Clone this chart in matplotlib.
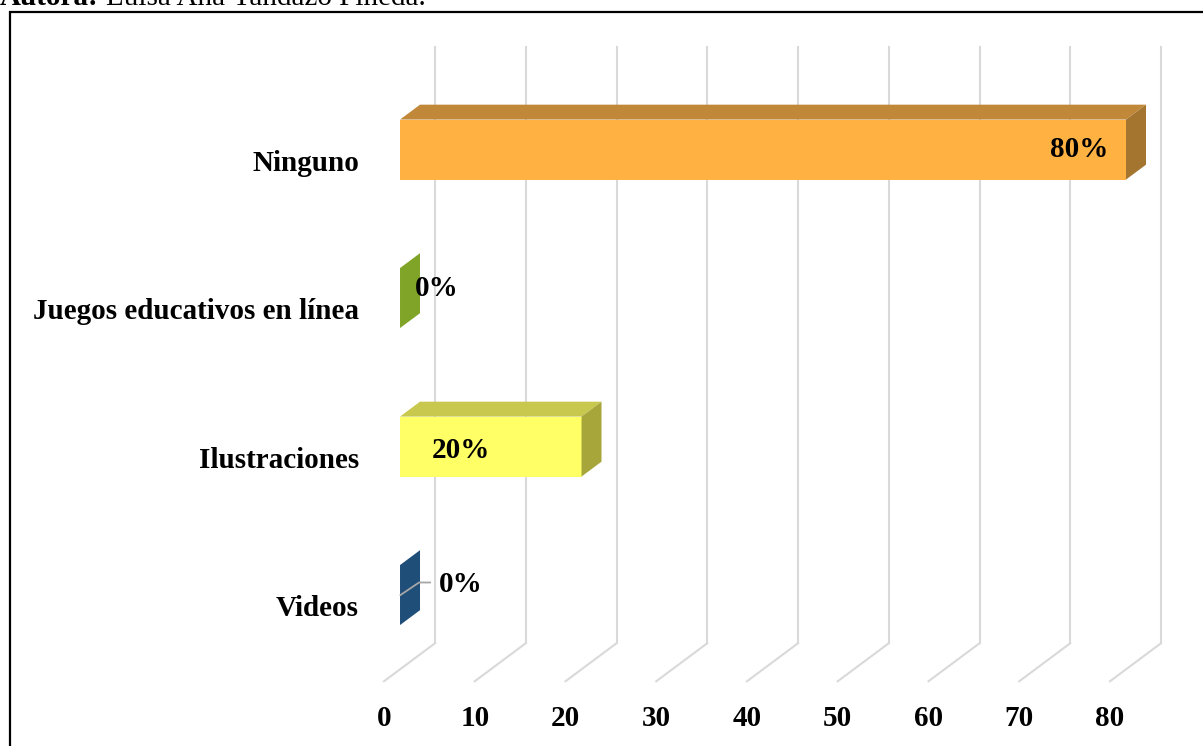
import matplotlib
matplotlib.use("Agg")
import matplotlib.pyplot as plt
from matplotlib.patches import Polygon, Rectangle
from matplotlib.lines import Line2D

# ---- data ----
categories = ["Videos", "Ilustraciones", "Juegos educativos en línea", "Ninguno"]
values = [0, 20, 0, 80]
value_labels = ["0%", "20%", "0%", "80%"]
x_ticks = [0, 10, 20, 30, 40, 50, 60, 70, 80]
author_bold = "Autora:"
author_rest = "Luisa Ana Yandazo Pineda."

# ---- style ----
front_colors = ["#1F4E79", "#FFFF66", "#7FA428", "#FFB142"]
top_colors = ["#1A4268", "#C8C84F", "#6C8C22", "#C1883A"]
side_colors = ["#1F4E79", "#A6A63A", "#7FA428", "#A3752E"]

plt.rcParams['font.family'] = ['Liberation Serif', 'DejaVu Serif']
FS = 21

W, H = 1203, 746
fig = plt.figure(figsize=(W / 100, H / 100), dpi=100)
ax = fig.add_axes([0, 0, 1, 1])
ax.set_axis_off()

# axis scaling (pixel layout of the original chart)
px_per_x = 9.075
x0_px = 384
px_per_y = 148.5
y0_px = 607
ax.set_xlim(-x0_px / px_per_x, (W - x0_px) / px_per_x)
ax.set_ylim((y0_px - H) / px_per_y, y0_px / px_per_y)

DX = 51 / px_per_x        # full depth offset in x units
DY = 38 / px_per_y        # full depth offset in category units
F0, F1 = 0.314, 0.706     # bar depth placement (fractions)
HH = 30 / px_per_y        # bar half height
y_floor = -0.5
y_top_back = (y0_px - 47) / px_per_y

grid_c = "#D9D9D9"
for t in x_ticks:
    ax.add_line(Line2D([t, t + DX], [y_floor, y_floor + DY], color=grid_c, lw=1.5, zorder=1))
    ax.add_line(Line2D([t + DX, t + DX], [y_floor + DY, y_top_back], color=grid_c, lw=1.5, zorder=1))
    ax.text(t, (y0_px - 718) / px_per_y, str(t), ha='center', va='center',
            fontsize=FS, fontweight='bold', zorder=5)

for i, (v, fc, tc, sc) in enumerate(zip(values, front_colors, top_colors, side_colors)):
    xf0, xf1 = F0 * DX, F1 * DX
    yf0, yf1 = F0 * DY, F1 * DY
    yb = i - HH + yf0
    yt = i + HH + yf0
    if v > 0:
        ax.add_patch(Polygon([(xf0, yb), (xf0 + v, yb), (xf0 + v, yt), (xf0, yt)],
                             closed=True, facecolor=fc, edgecolor='none', zorder=3))
        ax.add_patch(Polygon([(xf0, yt), (xf0 + v, yt), (xf1 + v, i + HH + yf1), (xf1, i + HH + yf1)],
                             closed=True, facecolor=tc, edgecolor='none', zorder=3))
    ax.add_patch(Polygon([(xf0 + v, yb), (xf1 + v, i - HH + yf1), (xf1 + v, i + HH + yf1), (xf0 + v, yt)],
                         closed=True, facecolor=sc, edgecolor='none', zorder=3))
    ax.text((359 - x0_px) / px_per_x, i - 2 / px_per_y, categories[i], ha='right', va='center',
            fontsize=FS, fontweight='bold', zorder=5)

# value labels
yc3 = 3 + F0 * DY
ax.text(values[3] + F0 * DX - 1.9, yc3, value_labels[3], ha='right', va='center',
        fontsize=FS, fontweight='bold', zorder=6)
ax.text(values[1] + (461 - 565.5) / px_per_x, (y0_px - 451) / px_per_y, value_labels[1],
        ha='center', va='center', fontsize=FS, fontweight='bold', zorder=6)
ax.text(values[2] + (437 - x0_px) / px_per_x, (y0_px - 289) / px_per_y, value_labels[2],
        ha='center', va='center', fontsize=FS, fontweight='bold', zorder=6)
lx = [values[0] + (400.5 - x0_px) / px_per_x, values[0] + (419 - x0_px) / px_per_x,
      values[0] + (430 - x0_px) / px_per_x]
ly = [(y0_px - 595) / px_per_y, (y0_px - 582.5) / px_per_y, (y0_px - 582.5) / px_per_y]
ax.add_line(Line2D(lx, ly, color="#A6A6A6", lw=1.3, zorder=6))
ax.text(values[0] + (461 - x0_px) / px_per_x, (y0_px - 584) / px_per_y, value_labels[0],
        ha='center', va='center', fontsize=FS, fontweight='bold', zorder=6)

# frame
fig.add_artist(Rectangle((10 / W, -0.05), 1.2, 1.05 - 12 / H, transform=fig.transFigure,
                         fill=False, edgecolor='black', lw=1.6))

# author line (cut at top as in the source)
t1 = fig.text(0.0, 1 - 5 / H, author_bold, ha='left', va='baseline', fontsize=FS, fontweight='bold')
fig.canvas.draw()
bb = t1.get_window_extent()
fig.text((bb.x1 + 7) / W, 1 - 5 / H, author_rest, ha='left', va='baseline', fontsize=FS)

fig.savefig("out.png", dpi=100)
